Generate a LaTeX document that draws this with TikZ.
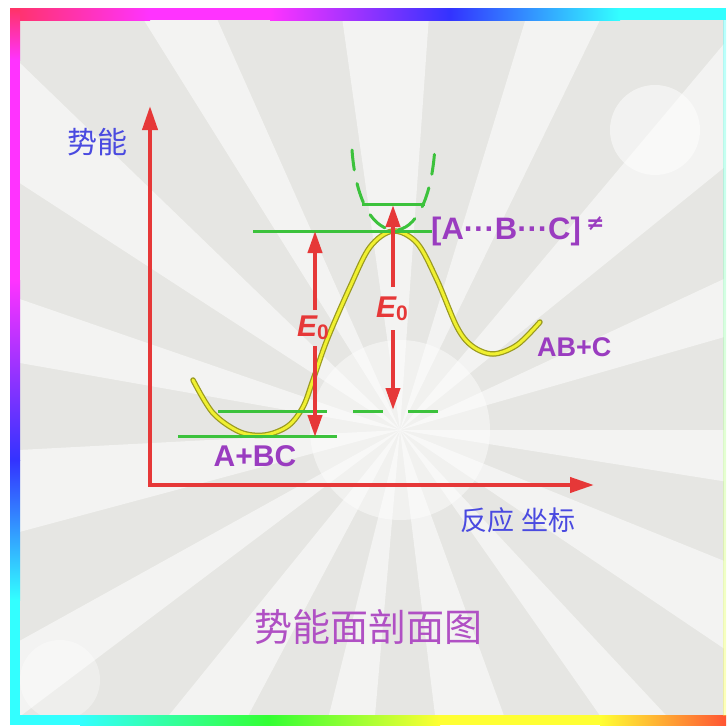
\documentclass[tikz,border=0pt]{standalone}
\usepackage{fontspec}
\setmainfont{Liberation Sans}
\newfontfamily\cjk{Noto Sans CJK SC}
\newfontfamily\dejavu{DejaVu Sans}
\usetikzlibrary{arrows.meta,calc}
\definecolor{axred}{HTML}{E63838}
\definecolor{lvgreen}{HTML}{3CC23C}
\definecolor{labpurple}{HTML}{9A3CC0}
\definecolor{titlepurple}{HTML}{B050C4}
\definecolor{axblue}{HTML}{4A4AE0}
\definecolor{curveyellow}{HTML}{F0F030}
\definecolor{curveedge}{HTML}{9A9A20}
\definecolor{bgrey}{HTML}{E6E6E3}
\definecolor{bred}{HTML}{FF3366}
\definecolor{bmag}{HTML}{FF33FF}
\definecolor{bblue}{HTML}{3333FF}
\definecolor{bcyan}{HTML}{33FFFF}
\definecolor{bgreen}{HTML}{33FF33}
\definecolor{byellow}{HTML}{FFFF33}
\definecolor{borange}{HTML}{FF5533}
\tikzset{
  axis/.style={draw=axred, line width=4pt, -{Triangle[length=24pt,width=15pt]}},
  earrow/.style={draw=axred, line width=4pt, -{Triangle[length=22pt,width=14pt]}},
  level/.style={draw=lvgreen, line width=3pt},
  wellcurve/.style={draw=lvgreen, line width=3pt, dash pattern=on 20pt off 14pt, line cap=round},
  lab/.style={text=labpurple, font=\bfseries\fontsize{30}{32}\selectfont, inner sep=0pt},
  elab/.style={text=axred, inner sep=0pt},
  cjklab/.style={inner sep=0pt},
}
\begin{document}
\begin{tikzpicture}[x=1pt,y=-1pt]
\useasboundingbox (0,0) rectangle (726,726);
% background
\fill[white] (0,0) rectangle (726,726);
\begin{scope}
  \clip (20,20) rectangle (724,715);
  \fill[bgrey] (20,20) rectangle (724,715);
  \coordinate (C) at (400,430);
  \foreach \a/\w in {0/9,22/12,47/8,70/13,95/9,118/11,143/8,165/12,190/9,213/11,238/8,262/12,287/9,310/11,335/9} {
    \fill[white, opacity=0.55] (C) -- ($(C)+(\a:900)$) -- ($(C)+(\a+\w:900)$) -- cycle;
  }
  \fill[white, opacity=0.45] (C) circle (90);
  \fill[white, opacity=0.5] (655,130) circle (45);
  \fill[white, opacity=0.35] (60,680) circle (40);
\end{scope}
% gradient frame
\shade[left color=bred, right color=bmag] (10,8) rectangle (150,20);
\fill[bmag] (150,8) rectangle (270,20);
\shade[left color=bmag, right color=bblue] (270,8) rectangle (450,20);
\shade[left color=bblue, right color=bcyan] (450,8) rectangle (620,20);
\fill[bcyan] (620,8) rectangle (726,20);
\shade[top color=bred, bottom color=bmag] (10,8) rectangle (20,60);
\fill[bmag] (10,60) rectangle (20,280);
\shade[top color=bmag, bottom color=bblue] (10,280) rectangle (20,460);
\shade[top color=bblue, bottom color=bcyan] (10,460) rectangle (20,600);
\fill[bcyan] (10,600) rectangle (20,725);
\fill[bcyan] (10,715) rectangle (80,725);
\shade[left color=bcyan, right color=bgreen] (80,715) rectangle (268,725);
\shade[left color=bgreen, right color=byellow] (268,715) rectangle (440,725);
\fill[byellow] (440,715) rectangle (600,725);
\shade[left color=byellow, right color=borange] (600,715) rectangle (726,725);
\shade[top color=bcyan, bottom color=byellow, opacity=0.35] (723,20) rectangle (726,715);
% potential curve
\def\pcurve{(193,380) (213,413) (240,432) (265,435) (288,426) (303,407) (313,380) (327,340) (350,287) (370,247) (393,231) (417,243) (437,280) (457,327) (472,346) (493,354) (517,345) (540,322)}
\draw[curveedge, line width=5.5pt, line cap=round] plot[smooth, tension=0.55] coordinates {\pcurve};
\draw[curveyellow, line width=3pt, line cap=round] plot[smooth, tension=0.55] coordinates {\pcurve};
% levels
\coordinate (L0a) at (178,436); \coordinate (L0b) at (337,436);
\coordinate (L1a) at (218,411); \coordinate (L1b) at (327,411);
\coordinate (L1c) at (353,411); \coordinate (L1d) at (440,411);
\coordinate (L2a) at (253,231); \coordinate (L2b) at (432,231);
\draw[level] (L0a) -- (L0b);
\draw[level] (L1a) -- (L1b);
\draw[level, dash pattern=on 30pt off 25pt] (L1c) -- (L1d);
\draw[level] (L2a) -- (L2b);
% transverse well at the saddle
\coordinate (W1) at (352,150); \coordinate (Wv) at (395,230); \coordinate (W2) at (435,146);
\draw[wellcurve] (W1) .. controls (356,205) and (375,230) .. (Wv) .. controls (415,230) and (432,200) .. (W2);
\coordinate (Z1) at (362,204); \coordinate (Z2) at (425,204);
\draw[level] (Z1) -- (Z2);
% axes
\coordinate (O) at (150,485);
\coordinate (Ytop) at (150,106);
\coordinate (Xend) at (594,485);
\draw[axis] (O) -- (Ytop);
\draw[axis] ($(O)+(-2,0)$) -- (Xend);
% E0 arrows
\node[elab] (e0a) at (313,328) {\fontsize{30}{32}\selectfont\bfseries\itshape E\raisebox{-3pt}{\fontsize{21}{22}\selectfont\upshape\bfseries 0}};
\node[elab] (e0b) at (392,309) {\fontsize{30}{32}\selectfont\bfseries\itshape E\raisebox{-3pt}{\fontsize{21}{22}\selectfont\upshape\bfseries 0}};
\coordinate (Ea1) at (315,310); \coordinate (Ea2) at (315,231);
\coordinate (Ea3) at (315,346); \coordinate (Ea4) at (315,437);
\coordinate (Eb1) at (393,287); \coordinate (Eb2) at (393,205);
\coordinate (Eb3) at (393,330); \coordinate (Eb4) at (393,410);
\draw[earrow] (Ea1) -- (Ea2);
\draw[earrow] (Ea3) -- (Ea4);
\draw[earrow] (Eb1) -- (Eb2);
\draw[earrow] (Eb3) -- (Eb4);
% labels
\node[lab, anchor=west, font=\bfseries\fontsize{31}{33}\selectfont] (ts) at (431,231) {[A···B···C]\,\raisebox{9pt}{\dejavu\fontsize{22}{24}\selectfont ≠}};
\node[lab] (abc) at (255,456) {A+BC};
\node[lab, anchor=west, font=\bfseries\fontsize{27}{29}\selectfont] (abc2) at (537,347) {AB+C};
\node[cjklab, text=axblue] (yl) at (97,142) {\cjk\fontsize{30}{32}\selectfont 势能};
\node[cjklab, text=axblue] (xl) at (518,520) {\cjk\fontsize{27}{29}\selectfont 反应 坐标};
\node[cjklab, text=titlepurple] (title) at (368,627) {\cjk\fontsize{38}{40}\selectfont 势能面剖面图};
\end{tikzpicture}
\end{document}
